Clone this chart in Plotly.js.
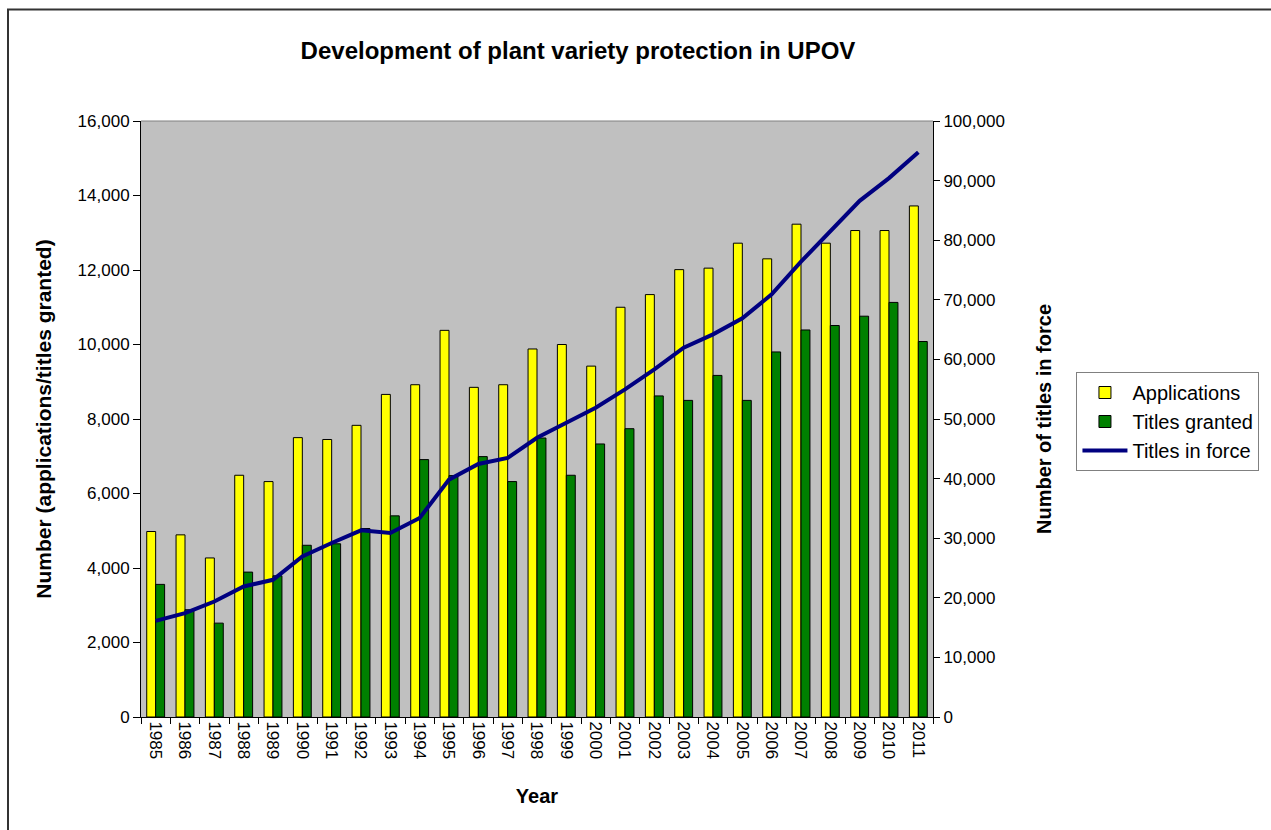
<!DOCTYPE html>
<html>
<head>
<meta charset="utf-8">
<script src="https://cdn.plot.ly/plotly-3.0.1.min.js"></script>
<style>
  html, body { margin: 0; padding: 0; background: #ffffff; }
  #chart { width: 1271px; height: 830px; }
</style>
</head>
<body>
<div id="chart"></div>
<script>
const years = ['1985','1986','1987','1988','1989','1990','1991','1992','1993','1994','1995','1996','1997','1998','1999','2000','2001','2002','2003','2004','2005','2006','2007','2008','2009','2010','2011'];
const applications = [4980, 4890, 4270, 6490, 6320, 7500, 7450, 7830, 8660, 8920, 10380, 8850, 8920, 9880, 10000, 9420, 11000, 11340, 12010, 12050, 12720, 12300, 13230, 12720, 13060, 13060, 13720];
const titlesGranted = [3560, 2880, 2520, 3890, 3790, 4610, 4650, 5060, 5400, 6910, 6480, 6990, 6320, 7490, 6490, 7330, 7740, 8620, 8500, 9170, 8500, 9800, 10390, 10510, 10760, 11130, 10080];
const titlesInForce = [16130, 17430, 19380, 21900, 23020, 26950, 29190, 31320, 30870, 33390, 39830, 42450, 43470, 46840, 49360, 51880, 54960, 58320, 61970, 64200, 66890, 70920, 76400, 81560, 86600, 90420, 94740];

const FONT = 'Arial, "Liberation Sans", sans-serif';
const TICKSIZE = 17;
const AXTITLESIZE = 20;

const traces = [
  {
    type: 'bar', name: 'Applications', x: years, y: applications,
    marker: { color: '#FFFF00', line: { color: '#000000', width: 1 } },
    xaxis: 'x', yaxis: 'y'
  },
  {
    type: 'bar', name: 'Titles granted', x: years, y: titlesGranted,
    marker: { color: '#008000', line: { color: '#000000', width: 1 } },
    xaxis: 'x', yaxis: 'y'
  },
  {
    type: 'scatter', mode: 'lines', name: 'Titles in force', x: years, y: titlesInForce,
    line: { color: '#000080', width: 4 },
    xaxis: 'x', yaxis: 'y2'
  }
];

const L = 141, R = 936, T = 121, B = 717;
const W = R - L, H = B - T;
function px(x) { return (x - L) / W; }
function py(y) { return (B - y) / H; }

const layout = {
  width: 1271, height: 830,
  margin: { l: L, r: 1271 - R, t: T, b: 830 - B, pad: 0 },
  paper_bgcolor: '#ffffff',
  plot_bgcolor: '#C0C0C0',
  font: { family: FONT, size: 16, color: '#000000' },
  barmode: 'group', bargap: 0.39, bargroupgap: 0,
  title: {
    text: '<b>Development of plant variety protection in UPOV</b>',
    font: { family: FONT, size: 24, color: '#000000' },
    x: 578 / 1271, xanchor: 'center', xref: 'container',
    y: 1 - 51 / 830, yanchor: 'middle', yref: 'container'
  },
  xaxis: {
    type: 'category',
    tickangle: 90,
    ticks: 'outside', ticklen: 6, tickcolor: '#000000', tickwidth: 1,
    tickson: 'boundaries',
    showline: true, linecolor: '#000000', linewidth: 1,
    showgrid: false, zeroline: false,
    tickfont: { family: FONT, size: TICKSIZE, color: '#000000' },
    title: { text: '<b>Year</b>', font: { family: FONT, size: AXTITLESIZE, color: '#000000' }, standoff: 30 }
  },
  yaxis: {
    range: [0, 16000], dtick: 2000, tickformat: ',d',
    ticks: 'outside', ticklen: 7, tickcolor: '#000000', tickwidth: 1,
    showline: true, linecolor: '#000000', linewidth: 1,
    showgrid: false, zeroline: false,
    tickfont: { family: FONT, size: TICKSIZE, color: '#000000' },
    title: { text: '<b>Number (applications/titles granted)</b>', font: { family: FONT, size: 21, color: '#000000' }, standoff: 20 }
  },
  yaxis2: {
    overlaying: 'y', side: 'right',
    range: [0, 100000], dtick: 10000, tickformat: ',d',
    ticks: 'outside', ticklen: 6, tickcolor: '#000000', tickwidth: 1,
    showline: true, linecolor: '#000000', linewidth: 1,
    showgrid: false, zeroline: false,
    tickfont: { family: FONT, size: TICKSIZE, color: '#000000' },
    title: { text: '<b>Number of titles in force</b>', font: { family: FONT, size: AXTITLESIZE, color: '#000000' }, standoff: 33 }
  },
  legend: {
    x: px(1080), y: py(372), xanchor: 'left', yanchor: 'top',
    bgcolor: '#ffffff', bordercolor: '#808080', borderwidth: 1,
    font: { family: FONT, size: 20, color: '#000000' },
    itemwidth: 45,
    traceorder: 'normal'
  },
  showlegend: true,
  shapes: [
    { type: 'line', xref: 'paper', yref: 'paper', x0: 0, x1: 1, y0: 1, y1: 1,
      line: { color: '#808080', width: 1 }, layer: 'above' },
    { type: 'path', xref: 'paper', yref: 'paper',
      path: 'M ' + px(7.5) + ' ' + py(845) + ' L ' + px(7.5) + ' ' + py(9.5) + ' L ' + px(1280) + ' ' + py(9.5),
      line: { color: '#333333', width: 2 } }
  ]
};

Plotly.newPlot('chart', traces, layout, { displayModeBar: false, staticPlot: true });
</script>
</body>
</html>
